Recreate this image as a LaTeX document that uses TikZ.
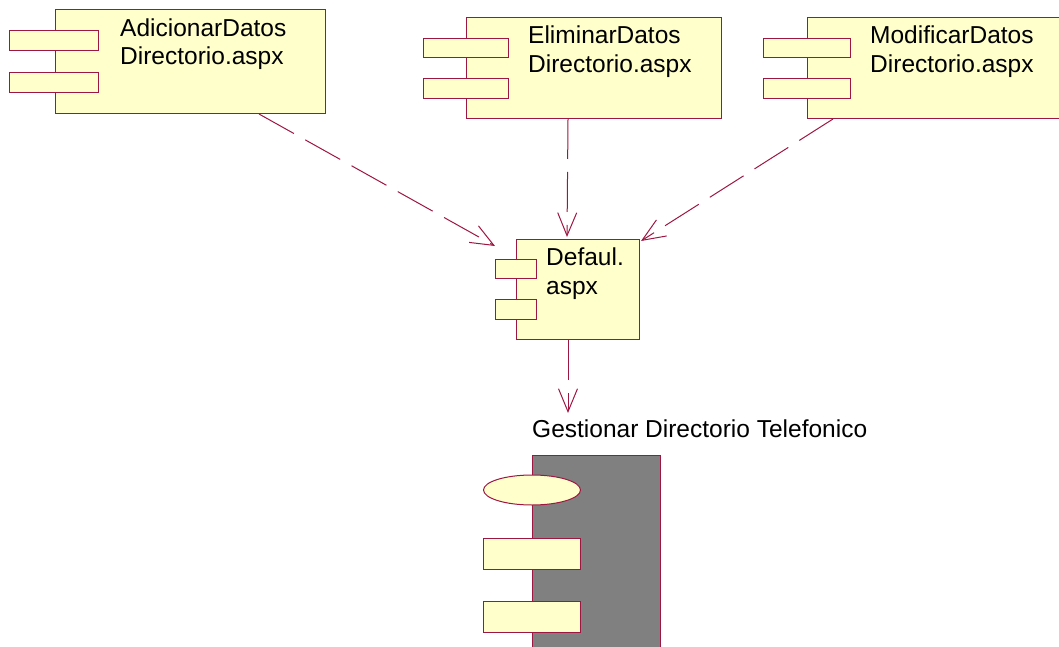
\documentclass[tikz,border=0pt]{standalone}
\usepackage{fontspec}
\setmainfont{Liberation Sans}
\usetikzlibrary{arrows.meta,calc,shapes.geometric}

\definecolor{edge}{RGB}{158,22,66}
\definecolor{compfill}{RGB}{255,255,204}
\definecolor{pkgfill}{RGB}{128,128,128}

\tikzset{
  body/.style={draw=edge, fill=compfill, line width=1pt, inner sep=0pt, anchor=north west},
  tab/.style={body},
  txt/.style={inner sep=0pt, anchor=base west, font=\fontsize{24.5}{29}\selectfont, text=black},
  dep/.style={draw=edge, line width=1pt, dash pattern=on 40pt off 13pt,
    -{Straight Barb[length=23pt,width=19pt,line width=1pt]}},
}

\begin{document}
\begin{tikzpicture}[x=1pt,y=-1pt]
\useasboundingbox (0,0) rectangle (1059,647);
\clip (0,0) rectangle (1059,647);

% AdicionarDatosDirectorio.aspx
\node[body, minimum width=270pt, minimum height=104pt] (A) at (55,9) {};
\node[tab, minimum width=89pt, minimum height=20pt] (A1) at (9,30) {};
\node[tab, minimum width=89pt, minimum height=20pt] (A2) at (9,72) {};
\node[txt] (At1) at (120,37) {AdicionarDatos};
\node[txt] (At2) at (120,65) {Directorio.aspx};

% EliminarDatosDirectorio.aspx
\node[body, minimum width=255pt, minimum height=101pt] (E) at (466,17) {};
\node[tab, minimum width=85pt, minimum height=19pt] (E1) at (423,38) {};
\node[tab, minimum width=85pt, minimum height=20pt] (E2) at (423,78) {};
\node[txt] (Et1) at (528,44) {EliminarDatos};
\node[txt] (Et2) at (528,73) {Directorio.aspx};

% ModificarDatosDirectorio.aspx
\node[body, minimum width=270pt, minimum height=101pt] (M) at (807,17) {};
\node[tab, minimum width=87pt, minimum height=19pt] (M1) at (763,38) {};
\node[tab, minimum width=87pt, minimum height=20pt] (M2) at (763,78) {};
\node[txt] (Mt1) at (870,44) {ModificarDatos};
\node[txt] (Mt2) at (870,73) {Directorio.aspx};

% Defaul.aspx
\node[body, minimum width=123pt, minimum height=100pt] (D) at (516,239) {};
\node[tab, minimum width=41pt, minimum height=19pt] (D1) at (495,259) {};
\node[tab, minimum width=41pt, minimum height=20pt] (D2) at (495,299) {};
\node[txt] (Dt1) at (546,265) {Defaul.};
\node[txt] (Dt2) at (546,294) {aspx};

% Gestionar Directorio Telefonico (package-like component)
\node[txt] (G) at (532,437) {Gestionar Directorio Telefonico};
\node[draw=edge, fill=pkgfill, line width=1pt, inner sep=0pt, anchor=north west,
      minimum width=128pt, minimum height=220pt] (P) at (532,455) {};
\node[draw=edge, fill=compfill, line width=1pt, ellipse, inner sep=0pt,
      minimum width=97pt, minimum height=30pt] (P0) at (532,490) {};
\node[tab, minimum width=97pt, minimum height=31pt] (P1) at (483,538) {};
\node[tab, minimum width=97pt, minimum height=31pt] (P2) at (483,601) {};

% dependencies
\coordinate (aS) at ([xshift=204pt]A.south west);
\coordinate (aT) at ([xshift=-21pt,yshift=-7pt]D.north west);
\coordinate (eS) at ([xshift=102pt]E.south west);
\coordinate (eT) at ([xshift=51pt,yshift=2pt]D.north west);
\coordinate (mS) at ([xshift=26pt]M.south west);
\coordinate (mT) at ([xshift=1pt,yshift=-2pt]D.north east);
\coordinate (dS) at ([xshift=52pt]D.south west);
\coordinate (gT) at ([xshift=36pt,yshift=24pt]G.base west);

\draw[dep] (aS) -- (aT);
\draw[dep] (eS) -- (eT);
\draw[dep] (mS) -- (mT);
\draw[dep] (dS) -- (gT);
\end{tikzpicture}
\end{document}
